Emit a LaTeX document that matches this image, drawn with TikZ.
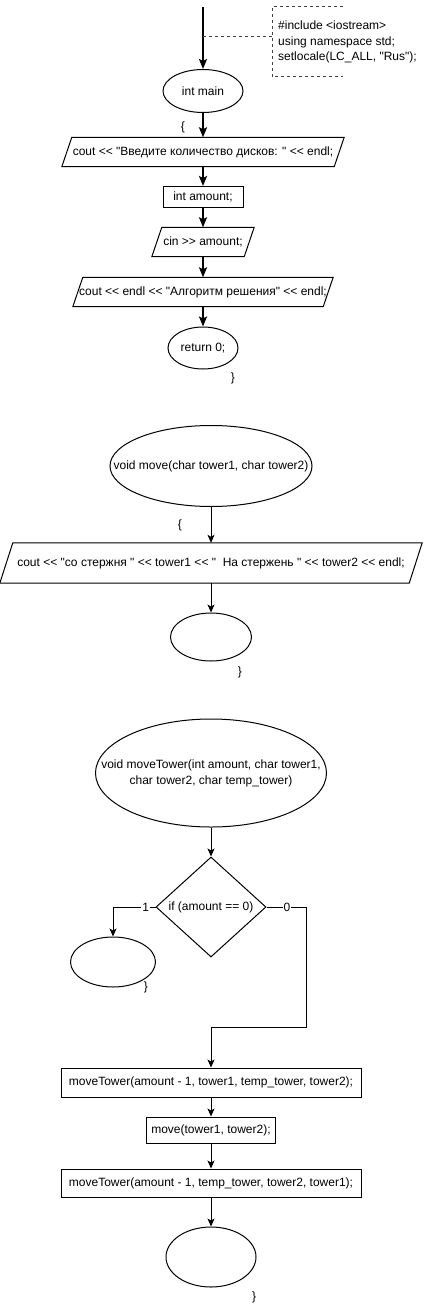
\documentclass[tikz,border=0pt]{standalone}
\usepackage{fontspec}
\newfontfamily\dfont{Liberation Sans}
\usetikzlibrary{arrows.meta,shapes.geometric}
\begin{document}
\begin{tikzpicture}[x=1pt,y=-1pt,
  every node/.style={font=\dfont\fontsize{12}{14}\selectfont, text=black},
  ell/.style={draw, ellipse, inner sep=0pt, line width=1pt},
  box/.style={draw, rectangle, inner sep=0pt, line width=1pt},
  pnode/.style={rectangle, inner sep=0pt},
  dia/.style={draw, diamond, inner sep=0pt, line width=1pt},
  pline/.style={line width=1pt},
  thickarrow/.style={line width=2pt, -{Stealth[length=10pt,width=8pt,inset=2pt]}},
  thinarrow/.style={line width=1pt, -{Stealth[length=8pt,width=7pt,inset=2pt]}},
  ann/.style={line width=1pt, draw=black!75, dash pattern=on 3pt off 3pt},
  lbl/.style={fill=white, inner sep=1pt}
]
\useasboundingbox (0,0) rectangle (424,1308);

% ---------- main ----------
\coordinate (start) at (203,7);
\node[ell, minimum width=80, minimum height=43, label=center:{int main}] (main) at (203,91) {};
\draw[thickarrow] (start) -- (main);

\coordinate (a1) at (343,7);
\coordinate (a2) at (272,7);
\coordinate (a3) at (272,77);
\coordinate (a4) at (343,77);
\draw[ann] (a1) -- (a2) -- (a3) -- (a4);
\node[anchor=west, align=left, inner sep=0pt, font=\dfont\fontsize{12}{15.5}\selectfont] (note) at (278,42)
  {\#include <iostream>\\using namespace std;\\setlocale(LC\_ALL, "Rus");};
\coordinate (j1) at (203,37);
\coordinate (j2) at (272,37);
\draw[ann] (j1) -- (j2);

\node (ob1) at (183,127) {\{};

\node[pnode, minimum width=272, minimum height=29] (p1) at (203,152) {cout << "Введите количество дисков: " << endl;};
\draw[pline] ([xshift=5]p1.north west) -- ([xshift=5]p1.north east) -- ([xshift=-5]p1.south east) -- ([xshift=-5]p1.south west) -- cycle;

\node[box, minimum width=80, minimum height=21] (amt) at (203,197) {int amount;};

\node[pnode, minimum width=92, minimum height=29] (cin) at (203,242) {cin >> amount;};
\draw[pline] ([xshift=5]cin.north west) -- ([xshift=5]cin.north east) -- ([xshift=-5]cin.south east) -- ([xshift=-5]cin.south west) -- cycle;

\node[pnode, minimum width=250, minimum height=29] (p3) at (203,292) {cout << endl << "Алгоритм решения" << endl;};
\draw[pline] ([xshift=5]p3.north west) -- ([xshift=5]p3.north east) -- ([xshift=-5]p3.south east) -- ([xshift=-5]p3.south west) -- cycle;

\node[ell, minimum width=70, minimum height=42, label=center:{return 0;}] (ret) at (203,348) {};
\node (cb1) at (233,378) {\}};

\draw[thickarrow] (main) -- (p1);
\draw[thickarrow] (p1) -- (amt);
\draw[thickarrow] (amt) -- (cin);
\draw[thickarrow] (cin) -- (p3);
\draw[thickarrow] (p3) -- (ret);

% ---------- move ----------
\node[ell, minimum width=202, minimum height=81, label=center:{void move(char tower1, char tower2)}] (mv) at (211,466) {};
\node (ob2) at (180,525) {\{};
\node[pnode, minimum width=409, minimum height=40] (p4) at (211,563) {cout << "со стержня " << tower1 << "\ \ На стержень " << tower2 << endl;};
\draw[pline] ([xshift=6.5]p4.north west) -- ([xshift=6.5]p4.north east) -- ([xshift=-6.5]p4.south east) -- ([xshift=-6.5]p4.south west) -- cycle;
\node[ell, minimum width=81, minimum height=48] (e1) at (211,637) {};
\node (cb2) at (240,672) {\}};
\draw[thinarrow] (mv) -- (p4);
\draw[thinarrow] (p4) -- (e1);

% ---------- moveTower ----------
\node[ell, minimum width=231, minimum height=108, label={[align=center, font=\dfont\fontsize{12}{16}\selectfont]center:{void moveTower(int amount, char tower1,\\char tower2, char temp\_tower)}}] (mt) at (211,773) {};
\node[dia, minimum width=110, minimum height=100, label=center:{if (amount == 0)}] (d) at (211,907) {};
\draw[thinarrow] (mt) -- (d);

\node[ell, minimum width=85, minimum height=50] (e2) at (113,962) {};
\node (cb3) at (146,987) {\}};
\draw[thinarrow] (d.west) -- node[lbl, pos=0.23] {1} (d.west -| e2.north) -- (e2.north);

\node[box, minimum width=300, minimum height=29] (b1) at (211,1082.5) {moveTower(amount - 1, tower1, temp\_tower, tower2);};
\node[box, minimum width=129, minimum height=26] (b2) at (211,1130) {move(tower1, tower2);};
\node[box, minimum width=300, minimum height=28] (b3) at (211,1183) {moveTower(amount - 1, temp\_tower, tower2, tower1);};
\node[ell, minimum width=90, minimum height=60] (e3) at (211,1257) {};
\node (cb4) at (254,1297) {\}};

\coordinate (r1) at (306,907);
\coordinate (r2) at (306,1027);
\coordinate (r3) at (211,1027);
\draw[thinarrow] (d.east) -- node[lbl, pos=0.52] {0} (r1) -- (r2) -- (r3) -- (b1.north);
\draw[thinarrow] (b1) -- (b2);
\draw[thinarrow] (b2) -- (b3);
\draw[thinarrow] (b3) -- (e3);
\end{tikzpicture}
\end{document}
